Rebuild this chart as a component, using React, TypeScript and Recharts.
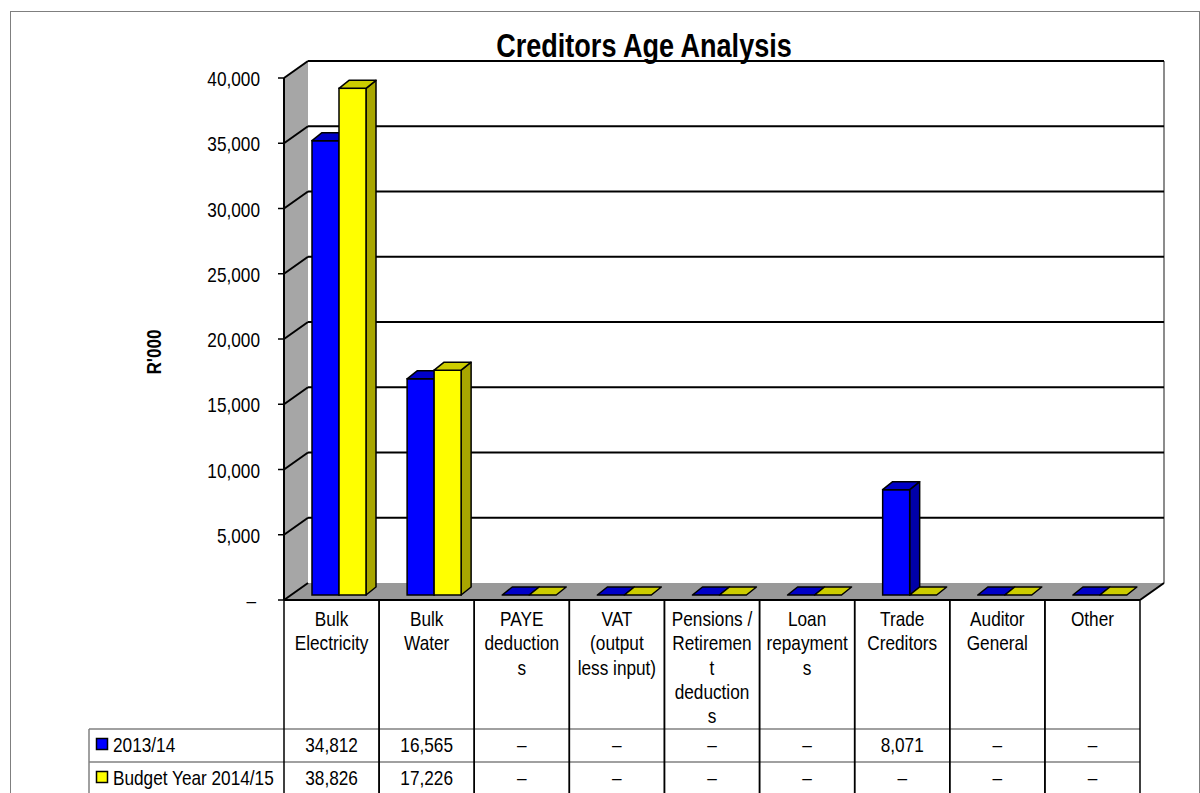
import React from 'react';
import { BarChart, Bar, XAxis, YAxis, CartesianGrid } from 'recharts';

// ---------- data ----------
const categories = [
  'Bulk Electricity',
  'Bulk Water',
  'PAYE deductions',
  'VAT (output less input)',
  'Pensions / Retirement deductions',
  'Loan repayments',
  'Trade Creditors',
  'Auditor General',
  'Other',
];
// category labels as they wrap in the data table header
const categoryLabelLines = [
  ['Bulk', 'Electricity'],
  ['Bulk', 'Water'],
  ['PAYE', 'deduction', 's'],
  ['VAT', '(output', 'less input)'],
  ['Pensions /', 'Retiremen', 't', 'deduction', 's'],
  ['Loan', 'repayment', 's'],
  ['Trade', 'Creditors'],
  ['Auditor', 'General'],
  ['Other'],
];
const seriesNames = ['2013/14', 'Budget Year 2014/15'];
const values2013 = [34812, 16565, 0, 0, 0, 0, 8071, 0, 0];
const valuesBudget = [38826, 17226, 0, 0, 0, 0, 0, 0, 0];
const yTicks = [0, 5000, 10000, 15000, 20000, 25000, 30000, 35000, 40000];
const yTickLabels = ['–', '5,000', '10,000', '15,000', '20,000', '25,000', '30,000', '35,000', '40,000'];
const title = 'Creditors Age Analysis';
const yAxisTitle = "R'000";

const data = categories.map((name, i) => ({
  name,
  s2013: values2013[i],
  sBudget: valuesBudget[i],
}));

// ---------- layout / style ----------
const FONT = "'Liberation Sans', Arial, sans-serif";
const NARROW = 0.82;
const W = 1200;
const H = 793;
const FRONT_LEFT = 284;
const FRONT_RIGHT = 1140;
const FRONT_BOTTOM = 600;
const DEPTH_X = 24;
const DEPTH_Y = 17;
const PLANE_DX = 7; // bar plane offset from front plane
const PLANE_DY = 5;
const PLOT_TOP = 73;
const PLOT_BOTTOM = FRONT_BOTTOM - PLANE_DY; // 595
const PLOT_LEFT = FRONT_LEFT + PLANE_DX;
const PLOT_RIGHT = FRONT_RIGHT + PLANE_DX;
const BACK_LEFT = FRONT_LEFT + DEPTH_X;
const BACK_RIGHT = FRONT_RIGHT + DEPTH_X;
const BACK_SHIFT = DEPTH_Y - PLANE_DY; // 12
const COL_W = (FRONT_RIGHT - FRONT_LEFT) / categories.length;
const LEGEND_LEFT = 89;
const ROW1_TOP = 729;
const ROW2_TOP = 762;
const TABLE_BOTTOM = 800;
const AXIS_SIZE = 2;

const seriesColors = [
  { front: '#0000ff', top: '#0000c8', side: '#0000a8' },
  { front: '#ffff00', top: '#cccc00', side: '#a8a600' },
];

const fmt = (v: number) => (v === 0 ? '–' : v.toLocaleString('en-US'));

// narrow text (Arial-Narrow-like) via horizontal compression
const NText = ({
  x,
  y,
  children,
  anchor = 'start',
  size = 21,
  bold = false,
}: {
  x: number;
  y: number;
  children: React.ReactNode;
  anchor?: 'start' | 'middle' | 'end';
  size?: number;
  bold?: boolean;
}) => (
  <text
    transform={`translate(${x} ${y}) scale(${NARROW} 1)`}
    x={0}
    y={0}
    textAnchor={anchor}
    fontFamily={FONT}
    fontSize={size}
    fontWeight={bold ? 'bold' : 'normal'}
    fill="#000"
  >
    {children}
  </text>
);

const make3DShape = (c: { front: string; top: string; side: string }) => (props: any) => {
  const { x, y, width, height } = props;
  const dx = 10;
  const dy = 8;
  const h = Math.max(0, height || 0);
  const w = width;
  const sw = 1.5;
  return (
    <g>
      {h > 0 && (
        <polygon
          points={`${x + w},${y} ${x + w + dx},${y - dy} ${x + w + dx},${y + h - dy} ${x + w},${y + h}`}
          fill={c.side}
          stroke="#000"
          strokeWidth={sw}
          strokeLinejoin="round"
        />
      )}
      {h > 0 && <rect x={x} y={y} width={w} height={h} fill={c.front} stroke="#000" strokeWidth={sw} />}
      <polygon
        points={`${x},${y} ${x + w},${y} ${x + w + dx},${y - dy} ${x + dx},${y - dy}`}
        fill={c.top}
        stroke="#000"
        strokeWidth={sw}
        strokeLinejoin="round"
      />
    </g>
  );
};

const GridLine = (props: any) => {
  const { y1 } = props;
  const isZero = Math.abs(y1 - PLOT_BOTTOM) < 1;
  const yb = y1 - BACK_SHIFT;
  const yf = y1 + PLANE_DY;
  return (
    <g>
      {!isZero && <line x1={BACK_LEFT} y1={yb} x2={BACK_RIGHT} y2={yb} stroke="#000" strokeWidth={2} />}
      <line x1={FRONT_LEFT} y1={yf} x2={BACK_LEFT} y2={yb} stroke="#000" strokeWidth={2} />
    </g>
  );
};

const YTick = (props: any) => {
  const { y, payload } = props;
  const yf = y + PLANE_DY;
  const label = yTickLabels[yTicks.indexOf(payload.value)] ?? String(payload.value);
  const isZero = payload.value === 0;
  return (
    <g>
      <line x1={FRONT_LEFT - 6} y1={yf} x2={FRONT_LEFT} y2={yf} stroke="#000" strokeWidth={1.5} />
      <NText x={isZero ? 256 : 260} y={yf + 8} anchor="end">
        {label}
      </NText>
    </g>
  );
};

const XTick = (props: any) => {
  const { x, index } = props;
  const cx = x - PLANE_DX;
  const left = cx - COL_W / 2;
  const right = cx + COL_W / 2;
  const lines = categoryLabelLines[index] || [];
  return (
    <g>
      <line x1={left} y1={FRONT_BOTTOM} x2={left} y2={TABLE_BOTTOM} stroke="#000" strokeWidth={1.5} />
      <line x1={right} y1={FRONT_BOTTOM} x2={right} y2={TABLE_BOTTOM} stroke="#000" strokeWidth={1.5} />
      {lines.map((t, k) => (
        <NText key={k} x={cx} y={626 + k * 24.3} anchor="middle">
          {t}
        </NText>
      ))}
      <NText x={cx} y={752} anchor="middle">
        {fmt(values2013[index])}
      </NText>
      <NText x={cx} y={785} anchor="middle">
        {fmt(valuesBudget[index])}
      </NText>
    </g>
  );
};

const Background = () => (
  <svg width={W} height={H} style={{ position: 'absolute', left: 0, top: 0 }}>
    <rect x={10.5} y={11.5} width={1189} height={800} fill="#fff" stroke="#7f7f7f" strokeWidth={1} />
    {/* left wall */}
    <polygon
      points={`${FRONT_LEFT},${PLOT_TOP + PLANE_DY} ${BACK_LEFT},${PLOT_TOP - BACK_SHIFT} ${BACK_LEFT},${FRONT_BOTTOM - DEPTH_Y} ${FRONT_LEFT},${FRONT_BOTTOM}`}
      fill="#a6a6a6"
    />
    {/* floor */}
    <polygon
      points={`${FRONT_LEFT},${FRONT_BOTTOM} ${FRONT_RIGHT},${FRONT_BOTTOM} ${BACK_RIGHT},${FRONT_BOTTOM - DEPTH_Y} ${BACK_LEFT},${FRONT_BOTTOM - DEPTH_Y}`}
      fill="#999999"
    />
    {/* back wall right edge */}
    <line x1={BACK_RIGHT} y1={PLOT_TOP - BACK_SHIFT} x2={BACK_RIGHT} y2={FRONT_BOTTOM - DEPTH_Y} stroke="#8c8c8c" strokeWidth={2} />
    {/* left wall front edge */}
    <line x1={FRONT_LEFT} y1={PLOT_TOP + PLANE_DY} x2={FRONT_LEFT} y2={FRONT_BOTTOM} stroke="#000" strokeWidth={2} />
    {/* floor front edges */}
    <line x1={FRONT_LEFT} y1={FRONT_BOTTOM} x2={FRONT_RIGHT} y2={FRONT_BOTTOM} stroke="#000" strokeWidth={2} />
    <line x1={FRONT_RIGHT} y1={FRONT_BOTTOM} x2={BACK_RIGHT} y2={FRONT_BOTTOM - DEPTH_Y} stroke="#000" strokeWidth={2} />
    {/* title */}
    <NText x={644} y={57} anchor="middle" size={33} bold>
      {title}
    </NText>
    {/* y axis title */}
    <text
      x={0}
      y={0}
      transform={`translate(161 352) rotate(-90) scale(${NARROW} 1)`}
      textAnchor="middle"
      fontFamily={FONT}
      fontSize={21}
      fontWeight="bold"
      fill="#000"
    >
      {yAxisTitle}
    </text>
    {/* data table legend column & row lines */}
    <line x1={LEGEND_LEFT} y1={ROW1_TOP} x2={FRONT_RIGHT} y2={ROW1_TOP} stroke="#808080" strokeWidth={1.5} />
    <line x1={LEGEND_LEFT} y1={ROW2_TOP} x2={FRONT_RIGHT} y2={ROW2_TOP} stroke="#808080" strokeWidth={1.5} />
    <line x1={LEGEND_LEFT} y1={ROW1_TOP} x2={LEGEND_LEFT} y2={TABLE_BOTTOM} stroke="#808080" strokeWidth={1.5} />
    {seriesNames.map((n, i) => {
      const base = i === 0 ? 752 : 785;
      return (
        <g key={n}>
          <rect x={96.5} y={base - 13.5} width={11} height={11} fill={seriesColors[i].front} stroke="#000" strokeWidth={1.5} />
          <NText x={113} y={base}>
            {n}
          </NText>
        </g>
      );
    })}
  </svg>
);

export default function App() {
  return (
    <div style={{ position: 'absolute', left: 0, top: 0, width: W, height: H, background: '#fff' }}>
      <Background />
      <div style={{ position: 'absolute', left: 0, top: 0 }}>
        <BarChart
          width={W}
          height={H}
          data={data}
          margin={{
            top: PLOT_TOP,
            right: W - PLOT_RIGHT,
            bottom: H - PLOT_BOTTOM - AXIS_SIZE,
            left: PLOT_LEFT - AXIS_SIZE,
          }}
          barSize={27}
          barGap={0}
        >
          <CartesianGrid vertical={false} horizontal={GridLine} />
          <XAxis
            dataKey="name"
            height={AXIS_SIZE}
            axisLine={false}
            tickLine={false}
            interval={0}
            tick={XTick}
          />
          <YAxis
            type="number"
            domain={[0, 40000]}
            ticks={yTicks}
            width={AXIS_SIZE}
            axisLine={false}
            tickLine={false}
            interval={0}
            tick={YTick}
          />
          <Bar dataKey="s2013" name={seriesNames[0]} fill={seriesColors[0].front} isAnimationActive={false} shape={make3DShape(seriesColors[0])} />
          <Bar dataKey="sBudget" name={seriesNames[1]} fill={seriesColors[1].front} isAnimationActive={false} shape={make3DShape(seriesColors[1])} />
        </BarChart>
      </div>
    </div>
  );
}
